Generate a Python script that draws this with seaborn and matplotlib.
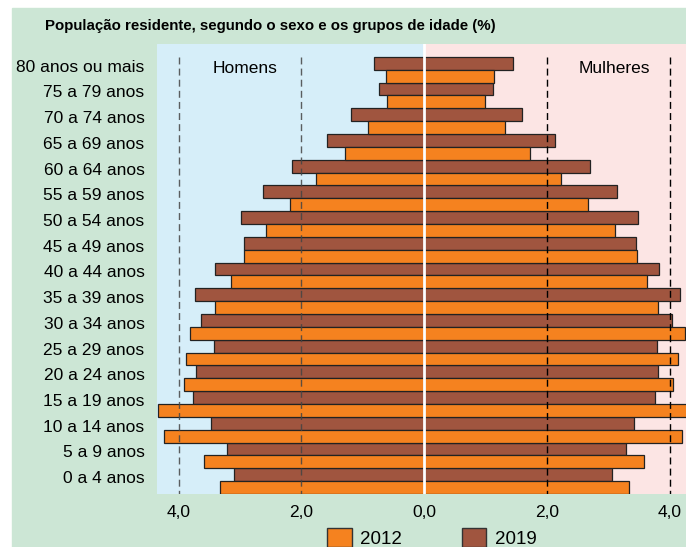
import pandas as pd
import seaborn as sns
import matplotlib.pyplot as plt
from matplotlib.patches import Patch, Rectangle
from matplotlib.transforms import ScaledTranslation

idades = ["80 anos ou mais", "75 a 79 anos", "70 a 74 anos", "65 a 69 anos",
          "60 a 64 anos", "55 a 59 anos", "50 a 54 anos", "45 a 49 anos",
          "40 a 44 anos", "35 a 39 anos", "30 a 34 anos", "25 a 29 anos",
          "20 a 24 anos", "15 a 19 anos", "10 a 14 anos", "5 a 9 anos",
          "0 a 4 anos"]

homens_2012 = [0.63, 0.61, 0.92, 1.29, 1.76, 2.18, 2.58, 2.94, 3.14, 3.40,
               3.82, 3.87, 3.91, 4.33, 4.24, 3.59, 3.33]
homens_2019 = [0.81, 0.73, 1.19, 1.59, 2.15, 2.63, 2.99, 2.94, 3.40, 3.73,
               3.63, 3.42, 3.71, 3.77, 3.47, 3.21, 3.09]
mulheres_2012 = [1.14, 0.99, 1.32, 1.72, 2.22, 2.67, 3.10, 3.46, 3.62, 3.80,
                 4.24, 4.13, 4.05, 4.35, 4.20, 3.57, 3.33]
mulheres_2019 = [1.44, 1.12, 1.59, 2.13, 2.69, 3.14, 3.48, 3.45, 3.82, 4.17,
                 4.03, 3.79, 3.80, 3.76, 3.42, 3.28, 3.05]

anos = ["2012", "2019"]
cores = {"2012": "#F5821F", "2019": "#A0553F"}

# tabelas longas, homens com sinal negativo
homens = pd.DataFrame({
    "idade": idades * 2,
    "ano": ["2012"] * len(idades) + ["2019"] * len(idades),
    "valor": [-v for v in homens_2012] + [-v for v in homens_2019],
})
mulheres = pd.DataFrame({
    "idade": idades * 2,
    "ano": ["2012"] * len(idades) + ["2019"] * len(idades),
    "valor": mulheres_2012 + mulheres_2019,
})

plt.rcParams["font.family"] = ["Liberation Sans", "DejaVu Sans"]

fig = plt.figure(figsize=(6.86, 5.47), dpi=100, facecolor="white")
fig.add_artist(Rectangle((12 / 686, 0), 1 - 12 / 686, 1 - 8 / 547,
                         transform=fig.transFigure, color="#CCE6D5", zorder=-10))
ax = fig.add_axes([157 / 686, 53 / 547, 529 / 686, 450 / 547])
ax.set_facecolor("none")

xmin, xmax = -4.35, 4.26
ax.axvspan(xmin, 0, color="#D6EEF9", zorder=0)
ax.axvspan(0, xmax, color="#FCE5E4", zorder=0)

for df in (homens, mulheres):
    sns.barplot(data=df, x="valor", y="idade", hue="ano", order=idades,
                hue_order=["2019", "2012"], palette=cores, orient="h",
                width=1.0, saturation=1, edgecolor="#222222", linewidth=0.9,
                errorbar=None, legend=False, ax=ax, zorder=2)

n = len(idades)
ax.vlines([-4, -2], -0.5, n - 0.5, colors="#444444", alpha=0.85,
          linestyles=(0, (5, 3)), linewidth=1, zorder=4)
ax.vlines([2, 4], -0.5, n - 0.5, colors="black",
          linestyles=(0, (5, 3)), linewidth=1, zorder=4)
ax.axvline(0, color="white", linewidth=2, zorder=5)

ax.set_xlim(xmin, xmax)
ax.set_ylim(n - 0.5, -1.0)
ax.set_xticks([-4, -2, 0, 2, 4])
ax.set_xticklabels(["4,0", "2,0", "0,0", "2,0", "4,0"])
ax.tick_params(axis="both", length=0, labelsize=12.5)
ax.tick_params(axis="y", pad=9)
ax.tick_params(axis="x", pad=8)
ax.set_xlabel("")
ax.set_ylabel("")
for s in ax.spines.values():
    s.set_visible(False)

# rótulos das idades um pouco acima do centro do grupo
desloca = ScaledTranslation(0, 4 / 100, fig.dpi_scale_trans)
for lab in ax.get_yticklabels():
    lab.set_transform(lab.get_transform() + desloca)

ax.text(-2.92, -0.05, "Homens", ha="center", va="center", fontsize=12.5)
ax.text(3.09, -0.05, "Mulheres", ha="center", va="center", fontsize=12.5)

fig.text(270 / 686, 1 - 26 / 547,
         "População residente, segundo o sexo e os grupos de idade (%)",
         ha="center", va="center", fontsize=10.8, fontweight="bold")

handles = [Patch(facecolor=cores[a], edgecolor="#333333", linewidth=1) for a in anos]
fig.legend(handles, anos, loc="upper center", ncol=2, frameon=False,
           bbox_to_anchor=(432 / 686, 1 - 511 / 547), fontsize=13.5,
           handlelength=1.3, handleheight=1.2, handletextpad=0.45,
           columnspacing=3.2)

fig.savefig("out.png", dpi=100, facecolor="white")
